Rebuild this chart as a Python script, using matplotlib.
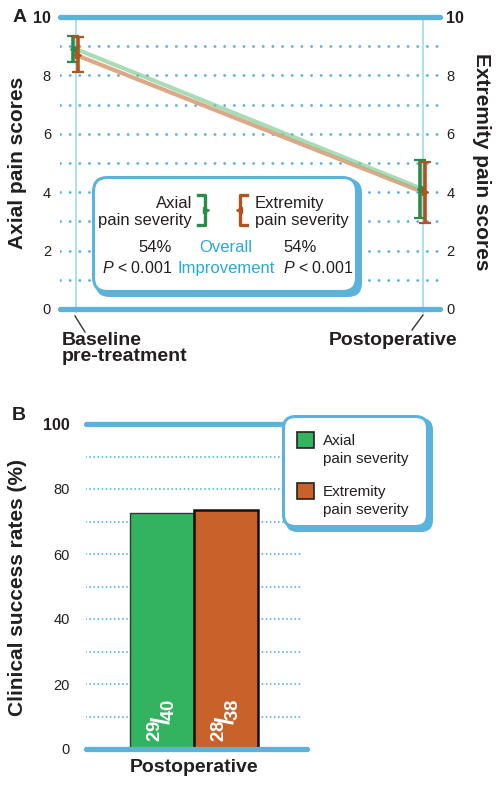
"""
Panel A: axial / extremity pain scores, baseline vs postoperative.
Panel B: clinical success rates at the postoperative visit.
"""
import matplotlib

matplotlib.use("Agg")
import matplotlib.pyplot as plt
from matplotlib.patches import FancyBboxPatch, Rectangle

plt.rcParams["font.family"] = ["Liberation Sans", "DejaVu Sans"]
plt.rcParams["mathtext.fontset"] = "custom"
plt.rcParams["mathtext.rm"] = "Liberation Sans"
plt.rcParams["mathtext.it"] = "Liberation Sans:italic"
plt.rcParams["mathtext.bf"] = "Liberation Sans:bold"

# ---- datos panel A ----
time_points = ["Baseline\npre-treatment", "Postoperative"]
axial_mean = [8.9, 4.1]
axial_err = [0.45, 1.0]
extremity_mean = [8.7, 4.0]
extremity_err = [0.6, 1.05]
pain_ticks = [0, 2, 4, 6, 8, 10]
improvement = ["54%", "54%"]
p_values = ["$P$ < 0.001", "$P$ < 0.001"]

# ---- datos panel B ----
groups = ["Axial\npain severity", "Extremity\npain severity"]
success_n = [29, 28]
total_n = [40, 38]
rate_ticks = [0, 20, 40, 60, 80, 100]
visit = "Postoperative"

BLUE = "#5bb3dc"
LIGHT = "#a9dcea"
TXT = "#231f20"
GREEN = "#33b35f"
GREEN_DK = "#2b8c49"
ORANGE = "#c8612a"
ORANGE_DK = "#b0531f"
GREEN_LINE = "#7cc98f"
ORANGE_LINE = "#dca888"
OVERALL = "#2aa8d8"

W, H = 499, 790
fig = plt.figure(figsize=(W / 100, H / 100), dpi=100)


def px_axes(x0, y0, x1, y1):
    return fig.add_axes([x0 / W, 1 - y1 / H, (x1 - x0) / W, (y1 - y0) / H])


def style_ticks(ax, ticks, pad):
    ax.set_yticks(ticks)
    ax.set_yticklabels([str(t) for t in ticks])
    ax.tick_params(axis="y", length=0, labelsize=10.5, pad=pad, colors=TXT)
    ax.get_yticklabels()[-1].set_fontweight("bold")
    ax.get_yticklabels()[-1].set_fontsize(11.5)
    for s in ax.spines.values():
        s.set_visible(False)


# ================= panel A =================
xpos = [0, 1]
axA = px_axes(60, 17, 440, 309)
axA.set_xlim(-16 / 347, 1 + 17 / 347)
axA.set_ylim(0, 10)
axA.set_xticks([])
style_ticks(axA, pain_ticks, 6.5)

for y in range(1, 10):
    axA.axhline(y, color=BLUE, lw=2.1, ls=(0, (0.01, 3.3)), dash_capstyle="round")
for y in (0, 10):
    axA.axhline(y, color=BLUE, lw=3.8, solid_capstyle="round", clip_on=False, zorder=2)
axA.vlines(xpos, -0.15, 10, color=LIGHT, lw=1.3, clip_on=False, zorder=1)

axA.plot(xpos, extremity_mean, color=ORANGE_LINE, lw=3, zorder=3)
axA.plot(xpos, axial_mean, color=GREEN_LINE, lw=3, alpha=0.65, zorder=3)

xg = [x - 0.01 for x in xpos]
xo = [x + 0.005 for x in xpos]
axA.errorbar(xg, axial_mean, yerr=axial_err, fmt="none", ecolor=GREEN_DK,
             elinewidth=2.6, capsize=4, capthick=1.6, zorder=4)
axA.plot(xg, axial_mean, ls="none", marker="<", ms=5, color=GREEN_DK, zorder=4)
axA.errorbar(xo, extremity_mean, yerr=extremity_err, fmt="none", ecolor=ORANGE_DK,
             elinewidth=2.6, capsize=4, capthick=1.6, zorder=4)
axA.plot(xo, extremity_mean, ls="none", marker=">", ms=5, color=ORANGE_DK, zorder=4)

axA2 = axA.twinx()
axA2.set_ylim(0, 10)
style_ticks(axA2, pain_ticks, 4.5)

fig.text(18 / W, 1 - 163 / H, "Axial pain scores", rotation=90, ha="center",
         va="center", fontsize=15, fontweight="bold", color=TXT)
fig.text(481 / W, 1 - 162 / H, "Extremity pain scores", rotation=270, ha="center",
         va="center", fontsize=15, fontweight="bold", color=TXT)

# ================= panel B =================
rates = [100 * s / n for s, n in zip(success_n, total_n)]
axB = px_axes(86, 424, 307, 749)
axB.set_xlim(-76 / 64, 145 / 64)
axB.set_ylim(0, 100)
axB.set_xticks([])
style_ticks(axB, rate_ticks, 11.5)

for y in range(10, 100, 10):
    axB.axhline(y, 0, 0.982, color=BLUE, lw=1.4, ls=(0, (0.01, 2.1)),
                dash_capstyle="round")
axB.axhline(100, color=BLUE, lw=3.8, solid_capstyle="round", clip_on=False)
axB.axhline(0, color=BLUE, lw=3.8, solid_capstyle="round", clip_on=False, zorder=5)

bpos = range(len(rates))
axB.bar(bpos, rates, width=1, color=[GREEN, ORANGE], edgecolor=["#2d3a30", "#111111"],
        linewidth=[1.0, 1.8], zorder=3)
for x, s, n in zip(bpos, success_n, total_n):
    axB.text(x, 2.2, rf"$\mathbf{{{{}}^{{{s}}}\!/\!{{}}_{{{n}}}}}$", rotation=90,
             ha="center", va="bottom", color="white", fontsize=19, zorder=6)

fig.text(18 / W, 1 - 587 / H, "Clinical success rates (%)", rotation=90, ha="center",
         va="center", fontsize=15, fontweight="bold", color=TXT)

# ================= overlay (cajas, etiquetas) =================
ov = fig.add_axes([0, 0, 1, 1])
ov.set_xlim(0, W)
ov.set_ylim(H, 0)
ov.axis("off")
ov.set_zorder(10)
ov.patch.set_alpha(0)


def box(x0, y0, x1, y1, r):
    ov.add_patch(FancyBboxPatch((x0 + 3.5, y0 + 3), x1 - x0 - 3.5, y1 - y0 - 3,
                                boxstyle=f"round,pad=0,rounding_size={r}",
                                fc=BLUE, ec="none"))
    ov.add_patch(FancyBboxPatch((x0 + 1.5, y0 + 1.5), x1 - x0 - 7, y1 - y0 - 7,
                                boxstyle=f"round,pad=0,rounding_size={r}",
                                fc="white", ec=BLUE, lw=2.2))


ov.text(20, 17, "A", ha="center", va="center", fontsize=14, fontweight="bold", color=TXT)
ov.text(19, 415, "B", ha="center", va="center", fontsize=14, fontweight="bold", color=TXT)

# x labels panel A
ov.plot([75, 85], [316, 332], color="#333333", lw=1)
ov.plot([423, 412], [315, 330], color="#333333", lw=1)
ov.text(62, 332, time_points[0], ha="left", va="top", fontsize=14, fontweight="bold",
        color=TXT, linespacing=0.92)
ov.text(393, 332, time_points[1], ha="center", va="top", fontsize=14,
        fontweight="bold", color=TXT)

# legend box panel A
box(92, 176, 362, 297, 14)
ov.text(192, 212, groups[0], ha="right", va="center", multialignment="right",
        fontsize=12, color=TXT, linespacing=1.15)
ov.text(255, 212, groups[1], ha="left", va="center", multialignment="left",
        fontsize=12, color=TXT, linespacing=1.15)
ov.plot([198, 205, 205, 198], [195, 195, 225, 225], color=GREEN_DK, lw=2.4)
ov.plot([206], [210], marker=">", ms=5, color=GREEN_DK)
ov.plot([247, 240, 240, 247], [195, 195, 225, 225], color=ORANGE_DK, lw=2.4)
ov.plot([239], [210], marker="<", ms=5, color=ORANGE_DK)
ov.text(172, 247, improvement[0], ha="right", va="center", fontsize=12, color=TXT)
ov.text(172, 268, p_values[0], ha="right", va="center", fontsize=11.5, color=TXT)
ov.text(283, 247, improvement[1], ha="left", va="center", fontsize=12, color=TXT)
ov.text(283, 268, p_values[1], ha="left", va="center", fontsize=11.5, color=TXT)
ov.text(226, 247, "Overall", ha="center", va="center", fontsize=12, color=OVERALL)
ov.text(226, 268, "Improvement", ha="center", va="center", fontsize=12, color=OVERALL)

# legend box panel B
box(282, 415, 433, 532, 12)
for (y, c, lab) in zip([432, 483], [GREEN, ORANGE], groups):
    ov.add_patch(Rectangle((297, y), 17, 16, fc=c, ec="#222222", lw=1.2))
    ov.text(323, y + 18, lab, ha="left", va="center", fontsize=11, color=TXT,
            linespacing=1.3)

ov.text(194, 768, visit, ha="center", va="center", fontsize=14, fontweight="bold",
        color=TXT)

fig.savefig("out.png", dpi=100)
